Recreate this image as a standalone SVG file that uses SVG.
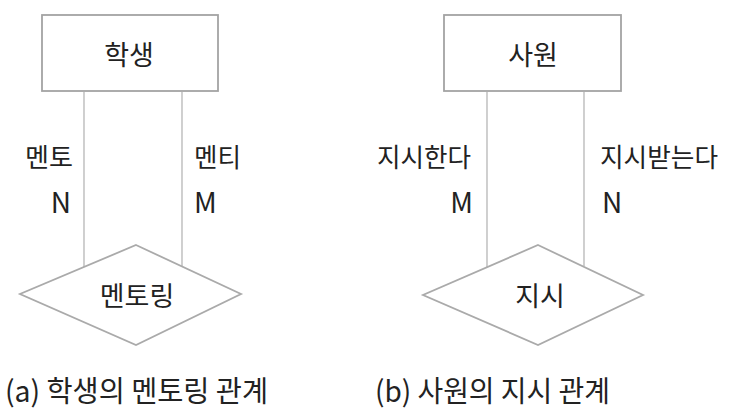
<svg xmlns="http://www.w3.org/2000/svg" width="733" height="418" viewBox="0 0 733 418">
<style>
.ent{fill:#fff;stroke:#a3a3a3;stroke-width:1.8}
.rel{fill:#fff;stroke:#aaaaaa;stroke-width:1.8}
.con{stroke:#c4c4c4;stroke-width:1.6;fill:none}
.t{font-family:"Noto Sans CJK KR","Noto Sans",sans-serif;fill:#222;font-size:26px}
.n{font-family:"Noto Sans CJK KR","Noto Sans",sans-serif;fill:#222;font-size:27px}
.lt{font-family:"Noto Sans CJK KR","Noto Sans",sans-serif;fill:#222;font-size:28px}
.cap{font-family:"Noto Sans CJK KR","Noto Sans",sans-serif;fill:#222;font-size:29px}
</style>
<rect width="733" height="418" fill="#fff"/>
<g id="connectors">
<line class="con" x1="84" y1="92" x2="84" y2="267"/>
<line class="con" x1="182" y1="92" x2="182" y2="266"/>
<line class="con" x1="487" y1="92" x2="487" y2="267"/>
<line class="con" x1="584" y1="92" x2="584" y2="266"/>
</g>
<g id="student">
<rect class="ent" x="42" y="15" width="176" height="76"/>
<text class="n" x="129" y="65" text-anchor="middle">학생</text>
</g>
<g id="mentoring">
<polygon class="rel" points="136,245 241,294 136,345 20,294"/>
<text class="n" x="137" y="306" text-anchor="middle">멘토링</text>
</g>
<g id="employee">
<rect class="ent" x="444" y="15" width="177" height="76"/>
<text class="n" x="533" y="65" text-anchor="middle">사원</text>
</g>
<g id="directive">
<polygon class="rel" points="538,245 643,295 538,345 423,295"/>
<text class="n" x="540" y="306" text-anchor="middle">지시</text>
</g>
<g id="labels">
<text class="t" x="73" y="167" text-anchor="end" textLength="48" lengthAdjust="spacingAndGlyphs">멘토</text>
<text class="lt" x="71" y="213" text-anchor="end">N</text>
<text class="t" x="194" y="167" textLength="47" lengthAdjust="spacingAndGlyphs">멘티</text>
<text class="lt" x="194" y="213">M</text>
<text class="t" x="471" y="167" text-anchor="end" textLength="94" lengthAdjust="spacingAndGlyphs">지시한다</text>
<text class="lt" x="473" y="213" text-anchor="end">M</text>
<text class="t" x="600" y="167" textLength="118" lengthAdjust="spacingAndGlyphs">지시받는다</text>
<text class="lt" x="602" y="213">N</text>
</g>
<g id="captions">
<text class="cap" x="5" y="402" textLength="263" lengthAdjust="spacingAndGlyphs">(a) 학생의 멘토링 관계</text>
<text class="cap" x="375" y="402" textLength="235" lengthAdjust="spacingAndGlyphs">(b) 사원의 지시 관계</text>
</g>
</svg>
